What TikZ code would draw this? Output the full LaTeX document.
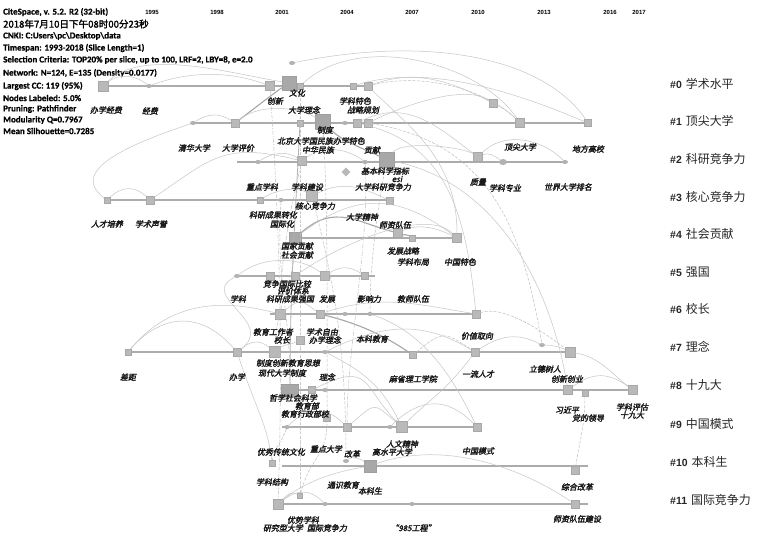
\documentclass[tikz,border=0pt]{standalone}
\usepackage{fontspec}
\usetikzlibrary{shapes.geometric}
\setmainfont{Carlito}
\newfontfamily\cjkl[FakeSlant=0.2,FakeBold=2.4]{Noto Sans CJK SC}
\newfontfamily\cjkr{Noto Sans CJK SC}
\newfontfamily\cjkh[FakeBold=1.8]{Noto Sans CJK SC}
\newfontfamily\hdfont[FakeBold=0.6]{Carlito}
\newfontfamily\lsans{Liberation Sans}
\begin{document}
\begin{tikzpicture}[x=1bp,y=-1bp,
  tl/.style={draw=gray!65, line width=1.8bp},
  nd/.style={rectangle, fill=gray!55, draw=gray!68, line width=0.3bp, minimum width=#1 bp, minimum height=#1 bp, inner sep=0pt},
  dnd/.style={rectangle, fill=gray!68, draw=gray!75, line width=0.3bp, minimum width=#1 bp, minimum height=#1 bp, inner sep=0pt},
  sn/.style={ellipse, fill=gray!60, minimum width=6bp, minimum height=4bp, inner sep=0pt},
  arcs/.style={draw=gray!45, line width=0.5bp},
  darc/.style={draw=gray!50, line width=0.5bp, dash pattern=on 3bp off 1.5bp},
  ddarc/.style={draw=gray!50, line width=0.5bp, dash pattern=on 4bp off 1.5bp on 1bp off 1.5bp},
  thk/.style={draw=gray!70, line width=1.1bp},
  lb/.style={font=\cjkl\fontsize{8}{8}\selectfont, text=black!90, inner sep=0pt},
  hd/.style={anchor=west, font=\hdfont\bfseries\fontsize{9}{9}\selectfont, inner sep=0pt},
  yr/.style={font=\lsans\bfseries\fontsize{6}{7}\selectfont, inner sep=0pt},
  cl/.style={anchor=west, inner sep=0pt, text=black!85}
]
\fill[white] (0,0) rectangle (766,540);
\useasboundingbox (0,0) rectangle (766,540);

% ---------- header ----------
\node[hd] (h1) at (3,12) {CiteSpace, v. 5.2. R2 (32-bit)};
\node[anchor=west, inner sep=0pt, font=\cjkh\fontsize{9.6}{10}\selectfont] (h2) at (3,24) {2018年7月10日下午08时00分23秒};
\node[hd] (h3) at (3,36) {CNKI: C:Users\textbackslash pc\textbackslash Desktop\textbackslash data};
\node[hd] (h4) at (3,48) {Timespan: 1993-2018 (Slice Length=1)};
\node[hd] (h5) at (3,60) {Selection Criteria: TOP20\% per slice, up to 100, LRF=2, LBY=8, e=2.0};
\node[hd] (h6) at (3,73) {Network: N=124, E=135 (Density=0.0177)};
\node[hd] (h7) at (3,86) {Largest CC: 119 (95\%)};
\node[hd] (h8) at (3,98) {Nodes Labeled: 5.0\%};
\node[hd] (h9) at (3,109) {Pruning: Pathfinder};
\node[hd] (h10) at (3,120) {Modularity Q=0.7967};
\node[hd] (h11) at (3,131) {Mean Silhouette=0.7285};

% ---------- years ----------
\node[yr] (y95) at (152,12) {1995};
\node[yr] (y98) at (217,12) {1998};
\node[yr] (y01) at (282,12) {2001};
\node[yr] (y04) at (347,12) {2004};
\node[yr] (y07) at (412,12) {2007};
\node[yr] (y10) at (478,12) {2010};
\node[yr] (y13) at (544,12) {2013};
\node[yr] (y16) at (610,12) {2016};
\node[yr] (y17) at (639,12) {2017};

% ---------- cluster labels ----------
\foreach \i/\yy/\t in {0/84/学术水平,1/121/顶尖大学,2/159/科研竞争力,3/197/核心竞争力,4/234/社会贡献,5/272/强国,6/309/校长,7/347/理念,8/385/十九大,9/424/中国模式,10/462/本科生,11/500/国际竞争力}{
  \node[cl] (c\i) at (670,\yy) {{\lsans\bfseries\fontsize{10.5}{11}\selectfont \#\i}\hspace{4bp}{\cjkr\fontsize{12}{12}\selectfont\t}};
}

% ---------- timelines ----------
\foreach \r/\xa/\xb/\yy in {0/103/368/86, 1/193/588/123, 2/237/565/162, 3/107/390/200, 4/300/460/238, 5/237/375/276, 6/270/477/314, 7/128/572/352, 8/282/635/390, 9/282/480/427, 10/282/588/466, 11/277/588/504}{
  \coordinate (L\r s) at (\xa,\yy);
  \coordinate (L\r e) at (\xb,\yy);
  \draw[tl] (L\r s) -- (L\r e);
}

% ---------- nodes ----------
\node[nd=10] (n0a) at (103,86) {};
\node[sn] (n0b) at (149,86) {};
\node[nd=9] (n0c) at (270,86) {};
\node[dnd=14] (n0d) at (289,83) {};
\node[nd=6] (n0e) at (300,86) {};
\node[nd=6] (n0f) at (353,86) {};
\node[nd=8] (n0g) at (368,86) {};
\node[sn] (n0h) at (292,63) {};

\node[sn] (n1a) at (193,123) {};
\node[nd=8] (n1b) at (235,123) {};
\node[nd=6] (n1c) at (300,123) {};
\node[dnd=15] (n1d) at (323,122) {};
\node[sn] (n1e) at (345,123) {};
\node[nd=8] (n1f) at (357,123) {};
\node[nd=8] (n1g) at (368,123) {};
\node[nd=8] (n1h) at (493,103) {};
\node[nd=9] (n1i) at (520,123) {};
\node[nd=7] (n1j) at (588,123) {};

\node[sn] (n2a) at (258,162) {};
\node[nd=9] (n2b) at (302,161) {};
\node[nd=6, rotate=45] (n2c) at (346,172) {};
\node[sn] (n2d) at (365,162) {};
\node[dnd=15] (n2e) at (387,160) {};
\node[nd=9] (n2f) at (478,157) {};
\node[sn, minimum width=8bp, minimum height=6bp] (n2g) at (503,162) {};
\node[sn] (n2h) at (565,162) {};

\node[nd=6] (n3a) at (107,200) {};
\node[nd=8] (n3b) at (150,200) {};
\node[nd=6] (n3c) at (260,200) {};
\node[sn] (n3d) at (281,200) {};
\node[nd=11] (n3e) at (312,196) {};
\node[nd=7] (n3f) at (390,201) {};

\node[dnd=12] (n4a) at (295,238) {};
\node[nd=9] (n4b) at (398,233) {};
\node[nd=6] (n4c) at (412,238) {};
\node[nd=9] (n4d) at (457,238) {};

\node[sn] (n5a) at (237,276) {};
\node[nd=8] (n5b) at (270,276) {};
\node[nd=8] (n5c) at (295,276) {};
\node[nd=9] (n5d) at (325,276) {};
\node[nd=7] (n5e) at (365,276) {};

\node[nd=10] (n6a) at (280,314) {};
\node[nd=8] (n6b) at (320,314) {};
\node[sn] (n6c) at (345,314) {};
\node[sn] (n6d) at (370,314) {};
\node[nd=8] (n6e) at (476,314) {};

\node[nd=6] (n7a) at (128,352) {};
\node[nd=8] (n7b) at (237,352) {};
\node[nd=11] (n7c) at (275,352) {};
\node[nd=8] (n7d) at (300,340) {};
\node[sn] (n7e) at (325,352) {};
\node[nd=7] (n7f) at (413,355) {};
\node[nd=8] (n7g) at (475,352) {};
\node[sn] (n7h) at (542,345) {};
\node[nd=10] (n7i) at (570,352) {};

\node[dnd=12, minimum width=17bp] (n8a) at (290,390) {};
\node[nd=7] (n8b) at (312,390) {};
\node[sn] (n8c) at (325,390) {};
\node[nd=9] (n8d) at (568,390) {};
\node[nd=6] (n8e) at (585,393) {};
\node[nd=9] (n8f) at (633,390) {};

\node[sn] (n9a) at (287,427) {};
\node[nd=7] (n9b) at (327,418) {};
\node[nd=8] (n9c) at (347,427) {};
\node[sn] (n9d) at (390,427) {};
\node[nd=11] (n9e) at (402,427) {};
\node[nd=8] (n9f) at (477,427) {};

\node[nd=6] (n10a) at (272,463) {};
\node[sn] (n10b) at (346,461) {};
\node[dnd=12] (n10c) at (370,466) {};
\node[nd=8] (n10d) at (575,470) {};

\node[nd=10] (n11a) at (278,504) {};
\node[nd=5] (n11b) at (300,496) {};
\node[sn] (n11c) at (325,504) {};
\node[sn] (n11d) at (412,504) {};
\node[nd=8] (n11e) at (575,504) {};

% ---------- arcs ----------
\draw[arcs] (n0a) .. controls +(40,-38) and +(-60,-10) .. (n0d);
\draw[arcs] (n0a) .. controls +(15,-12) and +(-15,-12) .. (n0b);
\draw[arcs] (n0b) .. controls +(40,-15) and +(-40,-15) .. (n0c);
\draw[arcs] (n0h) .. controls +(150,-30) and +(-40,-60) .. (n1j);
\draw[arcs] (n0e) .. controls +(60,-55) and +(-40,-60) .. (n1i);
\draw[arcs] (n0f) .. controls +(80,-25) and +(-60,-25) .. (n1j);
\draw[arcs] (n0g) .. controls +(50,-18) and +(-40,-20) .. (n1h);
\draw[darc] (n0g) .. controls +(60,-15) and +(-30,-30) .. (n1i);
\draw[arcs] (n1h) .. controls +(10,5) and +(-10,-10) .. (n1i);
\draw[thk] (n1b) .. controls +(20,-15) and +(-15,10) .. (n0d);
\draw[arcs] (n1a) .. controls +(15,-10) and +(-15,-10) .. (n1b);
\draw[arcs] (n1b) .. controls +(25,-20) and +(-25,-15) .. (n1d);
\draw[thk] (n1d) .. controls +(20,20) and +(-20,-10) .. (n2e);
\draw[arcs] (n1f) .. controls +(50,-25) and +(-40,-30) .. (n2f);
\draw[arcs] (n1g) .. controls +(30,-15) and +(-30,-20) .. (n1h);
\draw[arcs] (n2f) .. controls +(25,-25) and +(-25,-25) .. (n2h);
\draw[arcs] (n2f) .. controls +(10,-5) and +(-8,-6) .. (n2g);
\draw[arcs] (n2e) .. controls +(15,-20) and +(-15,-10) .. (n2f);
\draw[arcs] (n3a) .. controls +(15,-14) and +(-15,-14) .. (n3b);
\draw[arcs] (n3b) .. controls +(60,-40) and +(-80,-20) .. (n2b);
\draw[arcs] (n2a) .. controls +(15,-10) and +(-15,-10) .. (n2b);
\draw[arcs] (n1a) .. controls +(-60,20) and +(-40,-30) .. (n3a);
\draw[arcs] (n2b) .. controls +(20,-15) and +(-20,-15) .. (n2d);
\draw[arcs] (n3c) .. controls +(15,-10) and +(-15,-10) .. (n3e);
\draw[arcs] (n3e) .. controls +(30,-15) and +(-30,-15) .. (n3f);
\draw[thk] (n4a) .. controls +(40,-35) and +(-40,-10) .. (n4b);
\draw[arcs] (n4a) .. controls +(60,-45) and +(-60,-45) .. (n4d);
\draw[thk] (n4b) .. controls +(5,2) and +(-5,-4) .. (n4c);
\draw[arcs] (n4b) .. controls +(20,-10) and +(-20,-10) .. (n4d);
\draw[arcs] (n5a) .. controls +(25,-20) and +(-25,-20) .. (n5d);
\draw[arcs] (n5d) .. controls +(15,-10) and +(-15,-10) .. (n5e);
\draw[arcs] (n5c) .. controls +(50,-35) and +(-30,-30) .. (n4d);
\draw[arcs] (n5a) .. controls +(-40,20) and +(40,-30) .. (n7b);
\draw[arcs] (n7a) .. controls +(35,-40) and +(-35,-40) .. (n7b);
\draw[arcs] (n7a) .. controls +(50,-60) and +(-40,-10) .. (n6a);
\draw[arcs] (n7b) .. controls +(15,-12) and +(-15,-12) .. (n7c);
\draw[arcs] (n7c) .. controls +(10,-8) and +(-10,5) .. (n7d);
\draw[thk] (n6b) .. controls +(40,10) and +(-30,-20) .. (n7f);
\draw[arcs] (n6b) .. controls +(60,-20) and +(-60,-10) .. (n6e);
\draw[arcs] (n6a) .. controls +(20,-15) and +(-20,-15) .. (n6b);
\draw[darc] (n7f) .. controls +(30,-25) and +(-30,-20) .. (n7g);
\draw[arcs] (n7e) .. controls +(60,-30) and +(-50,-30) .. (n7g);
\draw[arcs] (n7g) .. controls +(30,-20) and +(-20,-10) .. (n7h);
\draw[arcs] (n7h) .. controls +(10,0) and +(-10,-5) .. (n7i);
\draw[arcs] (n7i) .. controls +(30,5) and +(-20,-15) .. (n8f);
\draw[arcs] (n8d) .. controls +(25,-18) and +(-25,-18) .. (n8f);
\draw[darc] (n8e) .. controls +(0,30) and +(5,-30) .. (n10d);
\draw[arcs] (n9a) .. controls +(20,-20) and +(-20,-20) .. (n9c);
\draw[arcs] (n9c) .. controls +(30,-25) and +(-30,-25) .. (n9e);
\draw[arcs] (n9d) .. controls +(30,-30) and +(-30,-30) .. (n9f);
\draw[arcs] (n8b) .. controls +(60,-30) and +(-40,-40) .. (n9e);
\draw[arcs] (n11a) .. controls +(30,-25) and +(-30,5) .. (n10c);
\draw[arcs] (n10c) .. controls +(70,-25) and +(-60,-40) .. (n11e);
\draw[arcs] (n10b) .. controls +(8,-6) and +(-8,-6) .. (n10c);
\draw[arcs] (n11a) .. controls +(10,-10) and +(-8,-5) .. (n11b);
\draw[arcs] (n11a) .. controls +(20,-15) and +(-15,-15) .. (n11c);
\draw[darc] (n11b) .. controls +(10,-40) and +(0,40) .. (n9b);

% long near-vertical connectors
\draw[ddarc] (n0c) .. controls +(10,150) and +(5,-150) .. (n11a);
\draw[draw=gray!60, line width=0.8bp] (n1c) .. controls +(-5,100) and +(0,-100) .. (n8a);
\draw[darc] (n0e) .. controls +(0,150) and +(0,-150) .. (n11b);
\draw[darc] (n1d) .. controls +(5,100) and +(0,-120) .. (n9b);
\draw[ddarc] (n2d) .. controls +(5,80) and +(0,-80) .. (n9c);
\draw[darc] (n2e) .. controls +(-10,50) and +(0,-50) .. (n6d);
\draw[darc] (n3e) .. controls +(20,80) and +(0,-120) .. (n10b);
\draw[ddarc] (n2b) .. controls +(-15,60) and +(0,-40) .. (n6a);
\draw[darc] (n4a) .. controls +(0,40) and +(0,-40) .. (n7c);
\draw[darc] (n3d) .. controls +(-5,80) and +(0,-80) .. (n8a);
\draw[arcs] (n7b) .. controls +(20,60) and +(-5,-40) .. (n10a);
\draw[darc] (n9a) .. controls +(-5,15) and +(2,-15) .. (n10a);

% long sweeping curves to the right
\draw[arcs] (n1f) .. controls +(90,20) and +(-10,-100) .. (n6e);
\draw[darc] (n1g) .. controls +(120,20) and +(-20,-120) .. (n7h);
\draw[arcs] (n0g) .. controls +(40,40) and +(0,-80) .. (n4d);
\draw[arcs] (n2e) .. controls +(100,20) and +(-20,-120) .. (n8d);
\draw[darc] (n6e) .. controls +(30,-10) and +(-20,-15) .. (n7i);
\draw[arcs] (n6d) .. controls +(60,20) and +(-20,-40) .. (n9f);
\draw[arcs] (n7e) .. controls +(40,20) and +(-20,-40) .. (n9e);
\draw[arcs] (n7g) .. controls +(-30,40) and +(30,-30) .. (n9e);

% ---------- labels ----------
\node[lb] (t0a) at (106,110) {办学经费};
\node[lb] (t0b) at (150,111) {经费};
\node[lb] (t0c) at (297,93) {文化};
\node[lb] (t0d) at (275,101) {创新};
\node[lb] (t1a) at (304,110) {大学理念};
\node[lb] (t1b) at (355,101) {学科特色};
\node[lb] (t1c) at (363,110) {战略规划};
\node[lb] (t1d) at (325,130) {制度};
\node[lb] (t1e) at (321,141) {北京大学国民族办学特色};
\node[lb] (t1f) at (318,150) {中华民族};
\node[lb] (t1g) at (372,150) {贡献};
\node[lb] (t1h) at (194,148) {清华大学};
\node[lb] (t1i) at (238,148) {大学评价};
\node[lb] (t1j) at (520,147) {顶尖大学};
\node[lb] (t1k) at (588,149) {地方高校};
\node[lb] (t2a) at (385,171) {基本科学指标};
\node[lb] (t2b) at (397,179) {esi};
\node[lb] (t2c) at (383,187) {大学科研竞争力};
\node[lb] (t2d) at (262,187) {重点学科};
\node[lb] (t2e) at (307,187) {学科建设};
\node[lb] (t2f) at (478,182) {质量};
\node[lb] (t2g) at (505,188) {学科专业};
\node[lb] (t2h) at (568,187) {世界大学排名};
\node[lb] (t3a) at (107,224) {人才培养};
\node[lb] (t3b) at (151,224) {学术声誉};
\node[lb] (t3c) at (315,206) {核心竞争力};
\node[lb] (t3d) at (273,215) {科研成果转化};
\node[lb] (t3e) at (282,224) {国际化};
\node[lb] (t4a) at (362,217) {大学精神};
\node[lb] (t4b) at (395,225) {师资队伍};
\node[lb] (t4c) at (297,246) {国家贡献};
\node[lb] (t4d) at (297,255) {社会贡献};
\node[lb] (t4e) at (403,251) {发展战略};
\node[lb] (t4f) at (413,262) {学科布局};
\node[lb] (t4g) at (460,262) {中国特色};
\node[lb] (t5a) at (287,284) {竞争国际比较};
\node[lb] (t5b) at (293,291) {评价体系};
\node[lb] (t5c) at (290,299) {科研成果强国};
\node[lb] (t5d) at (238,299) {学科};
\node[lb] (t5e) at (327,299) {发展};
\node[lb] (t5f) at (369,299) {影响力};
\node[lb] (t5g) at (413,299) {教师队伍};
\node[lb] (t6a) at (273,332) {教育工作者};
\node[lb] (t6b) at (282,340) {校长};
\node[lb] (t6c) at (322,332) {学术自由};
\node[lb] (t6d) at (325,340) {办学理念};
\node[lb] (t6e) at (372,339) {本科教育};
\node[lb] (t6f) at (477,336) {价值取向};
\node[lb] (t7a) at (288,363) {制度创新教育思想};
\node[lb] (t7b) at (282,373) {现代大学制度};
\node[lb] (t7c) at (327,377) {理念};
\node[lb] (t7d) at (128,377) {差距};
\node[lb] (t7e) at (237,377) {办学};
\node[lb] (t7f) at (413,379) {麻省理工学院};
\node[lb] (t7g) at (478,374) {一流人才};
\node[lb] (t7h) at (545,369) {立德树人};
\node[lb] (t7i) at (567,379) {创新创业};
\node[lb] (t8a) at (293,398) {哲学社会科学};
\node[lb] (t8b) at (307,406) {教育部};
\node[lb] (t8c) at (305,414) {教育行政部校};
\node[lb] (t8d) at (567,410) {习近平};
\node[lb] (t8e) at (588,418) {党的领导};
\node[lb] (t8f) at (632,407) {学科评估};
\node[lb] (t8g) at (632,415) {十九大};
\node[lb] (t9a) at (281,452) {优秀传统文化};
\node[lb] (t9b) at (326,449) {重点大学};
\node[lb] (t9c) at (352,454) {改革};
\node[lb] (t9d) at (402,444) {人文精神};
\node[lb] (t9e) at (392,452) {高水平大学};
\node[lb] (t9f) at (478,451) {中国模式};
\node[lb] (t10a) at (272,482) {学科结构};
\node[lb] (t10b) at (343,485) {通识教育};
\node[lb] (t10c) at (370,491) {本科生};
\node[lb] (t10d) at (577,487) {综合改革};
\node[lb] (t11a) at (303,520) {优势学科};
\node[lb] (t11b) at (283,528) {研究型大学};
\node[lb] (t11c) at (327,528) {国际竞争力};
\node[lb] (t11d) at (413,528) {“985工程”};
\node[lb] (t11e) at (577,519) {师资队伍建设};
\end{tikzpicture}
\end{document}
